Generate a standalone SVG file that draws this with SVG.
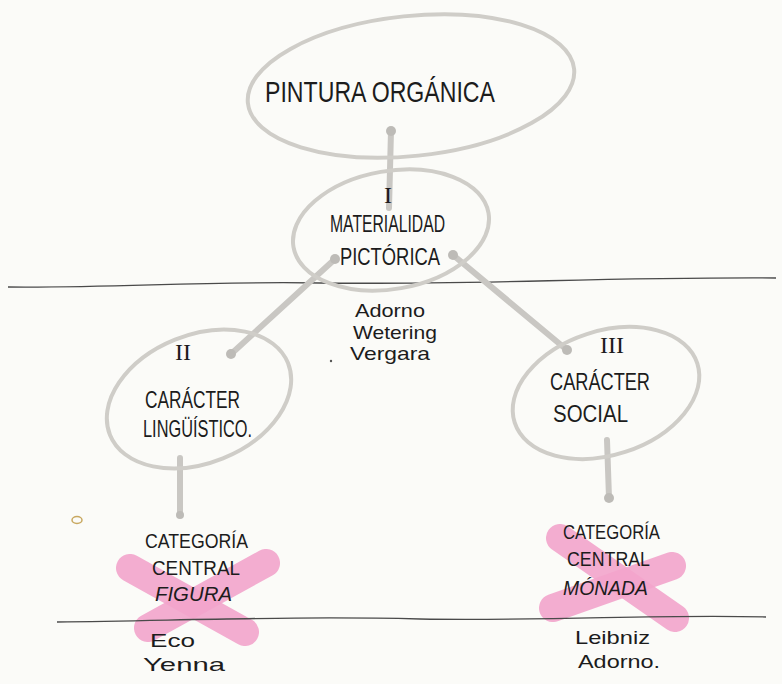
<svg xmlns="http://www.w3.org/2000/svg" width="782" height="684" viewBox="0 0 782 684">
  <defs>
    <style>
      .bg { fill: #fbfbf8; }
      .oval { fill: none; stroke: #cfcdc8; stroke-width: 4; }
      .link { stroke: #c9c7c3; stroke-width: 6; stroke-linecap: round; fill: none; }
      .knob { fill: #bdbbb7; }
      .rule { stroke: #4a4a4a; stroke-width: 1.3; fill: none; }
      .cross { stroke: #f3a5cc; stroke-width: 28; stroke-linecap: round; opacity: 0.9; }
      .t { font-family: "Liberation Sans", "DejaVu Sans", sans-serif; fill: #1c1c1c; }
      .cap { font-size: 24px; }
      .low { font-size: 19px; }
      .num { font-family: "Liberation Serif", serif; font-size: 24px; fill: #1c1c1c; }
      .dot { fill: #c8a860; }
    </style>
  </defs>

  <rect class="bg" x="0" y="0" width="782" height="684"/>

  <!-- pink crossing marks -->
  <g id="cross-left">
    <line class="cross" x1="130" y1="568" x2="245" y2="632"/>
    <line class="cross" x1="266" y1="563" x2="148" y2="628"/>
  </g>
  <g id="cross-right">
    <line class="cross" x1="560" y1="538" x2="675" y2="618"/>
    <line class="cross" x1="672" y1="566" x2="553" y2="608"/>
  </g>

  <!-- horizontal rules -->
  <g id="rules">
    <path class="rule" d="M8,287 C120,288 200,281 320,283 C480,285 600,277 776,278"/>
    <path class="rule" d="M57,622 C200,620 300,616 420,619 C560,621 660,614 766,617"/>
  </g>

  <!-- connectors -->
  <g id="connectors">
    <line class="link" x1="391" y1="131" x2="389" y2="208"/>
    <circle class="knob" cx="391" cy="131" r="5"/>
    <line class="link" x1="335" y1="259" x2="230" y2="355"/>
    <circle class="knob" cx="335" cy="259" r="5"/>
    <circle class="knob" cx="231" cy="354" r="5"/>
    <line class="link" x1="453" y1="255" x2="567" y2="350"/>
    <circle class="knob" cx="453" cy="255" r="5"/>
    <circle class="knob" cx="567" cy="350" r="5"/>
    <line class="link" x1="180" y1="458" x2="180" y2="515"/>
    <circle class="knob" cx="180" cy="515" r="4"/>
    <line class="link" x1="607" y1="440" x2="609" y2="498"/>
    <circle class="knob" cx="609" cy="498" r="5"/>
  </g>

  <g id="node-pintura">
    <ellipse class="oval" cx="411" cy="86" rx="164" ry="70" transform="rotate(-6 411 86)"/>
    <text class="t" x="265" y="102" font-size="30" textLength="230" lengthAdjust="spacingAndGlyphs">PINTURA ORGÁNICA</text>
  </g>

  <g id="node-materialidad">
    <ellipse class="oval" cx="391" cy="230" rx="99" ry="59" transform="rotate(-10 391 230)"/>
    <text class="num" x="388" y="203" text-anchor="middle">I</text>
    <text class="t cap" x="330" y="232" textLength="115" lengthAdjust="spacingAndGlyphs">MATERIALIDAD</text>
    <text class="t cap" x="340" y="265" textLength="100" lengthAdjust="spacingAndGlyphs">PICTÓRICA</text>
  </g>

  <g id="authors-materialidad">
    <text class="t low" x="355" y="317" textLength="70" lengthAdjust="spacingAndGlyphs">Adorno</text>
    <text class="t low" x="353" y="339" textLength="84" lengthAdjust="spacingAndGlyphs">Wetering</text>
    <text class="t low" x="350" y="360" textLength="80" lengthAdjust="spacingAndGlyphs">Vergara</text>
  </g>

  <g id="node-linguistico">
    <ellipse class="oval" cx="199" cy="399" rx="96" ry="64" transform="rotate(-22 199 399)"/>
    <text class="num" x="183" y="360" text-anchor="middle">II</text>
    <text class="t cap" x="145" y="408" textLength="95" lengthAdjust="spacingAndGlyphs">CARÁCTER</text>
    <text class="t cap" x="143" y="437" textLength="109" lengthAdjust="spacingAndGlyphs">LINGÜÍSTICO.</text>
  </g>

  <g id="node-social">
    <ellipse class="oval" cx="606" cy="393" rx="96" ry="62" transform="rotate(-18 606 393)"/>
    <text class="num" x="612" y="353" text-anchor="middle">III</text>
    <text class="t cap" x="550" y="390" textLength="100" lengthAdjust="spacingAndGlyphs">CARÁCTER</text>
    <text class="t cap" x="553" y="422" textLength="75" lengthAdjust="spacingAndGlyphs">SOCIAL</text>
  </g>

  <g id="node-figura">
    <text class="t" font-size="20" x="145" y="548" textLength="103" lengthAdjust="spacingAndGlyphs">CATEGORÍA</text>
    <text class="t" font-size="20" x="152" y="575" textLength="88" lengthAdjust="spacingAndGlyphs">CENTRAL</text>
    <text class="t" font-size="20" x="155" y="601" textLength="77" lengthAdjust="spacingAndGlyphs" font-style="italic">FIGURA</text>
    <text class="t low" x="150" y="647" textLength="45" lengthAdjust="spacingAndGlyphs">Eco</text>
    <text class="t low" x="143" y="671" textLength="82" lengthAdjust="spacingAndGlyphs">Yenna</text>
  </g>

  <g id="node-monada">
    <text class="t" font-size="20" x="563" y="539" textLength="97" lengthAdjust="spacingAndGlyphs">CATEGORÍA</text>
    <text class="t" font-size="20" x="567" y="566" textLength="83" lengthAdjust="spacingAndGlyphs">CENTRAL</text>
    <text class="t" font-size="20" x="563" y="595" textLength="85" lengthAdjust="spacingAndGlyphs" font-style="italic">MÓNADA</text>
    <text class="t low" x="575" y="644" textLength="75" lengthAdjust="spacingAndGlyphs">Leibniz</text>
    <text class="t low" x="578" y="668" textLength="82" lengthAdjust="spacingAndGlyphs">Adorno.</text>
  </g>

  <!-- small stray ink marks -->
  <ellipse class="dot" cx="77" cy="520" rx="5" ry="3.5" fill="none" stroke="#c8a860" stroke-width="1.5" style="fill:none"/>
  <circle cx="331" cy="361" r="1.2" fill="#555"/>
</svg>
